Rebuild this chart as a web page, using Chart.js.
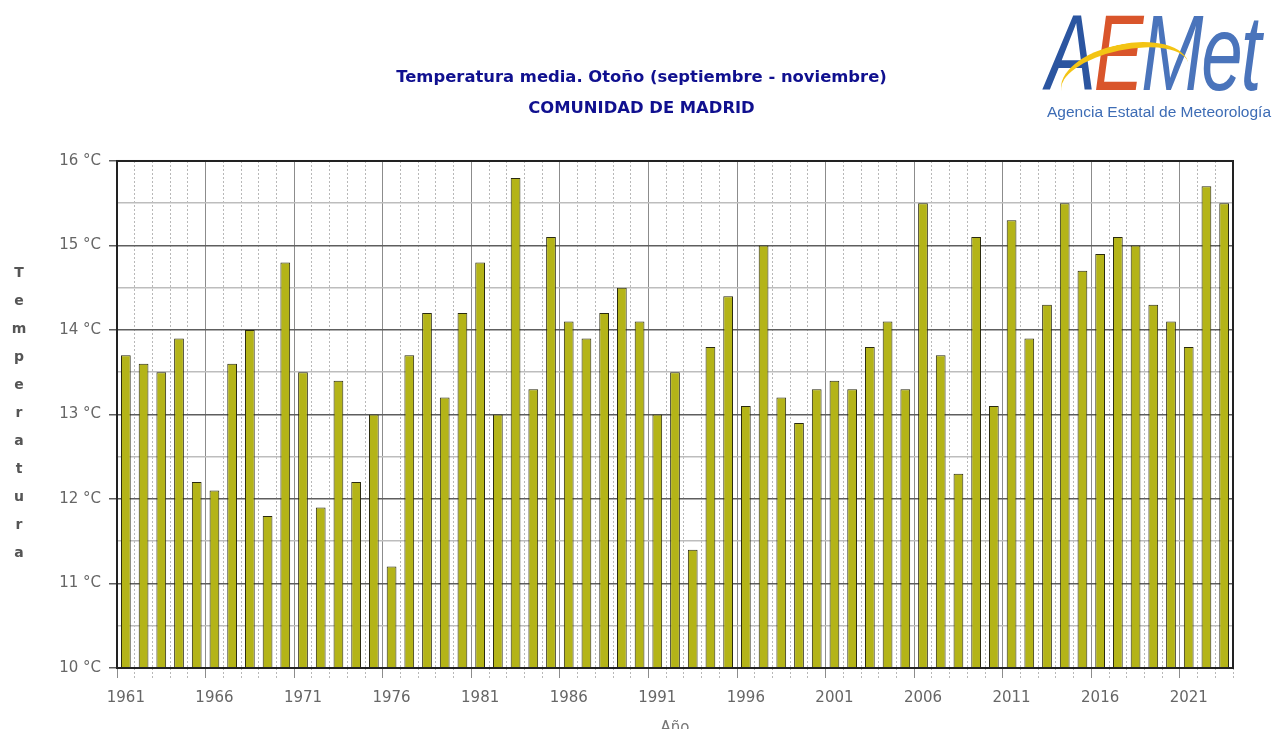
<!DOCTYPE html>
<html>
<head>
<meta charset="utf-8">
<script src="https://cdn.jsdelivr.net/npm/chart.js@4.4.1/dist/chart.umd.min.js"></script>
<style>
  body { margin: 0; background: #fff; }
  #wrap { position: relative; width: 1283px; height: 729px; overflow: hidden; }
  #ytitle { position: absolute; left: 9px; top: 258px; width: 20px; font: bold 14px "DejaVu Sans", sans-serif; color: #555; text-align: center; }
  #ytitle div { height: 28px; line-height: 28px; }
  #logo { position: absolute; left: 1040px; top: 0; width: 243px; height: 125px; }
  #logo .mark { position: absolute; left: 6px; top: -10px; font: italic 108px "Liberation Sans", sans-serif; transform: scaleX(0.69); transform-origin: left top; white-space: nowrap; letter-spacing: -3px; }
  #logo .swoosh { position: absolute; left: 20px; top: 44px; width: 130px; height: 60px; border-top: 6px solid #f3c414; border-radius: 50%; transform: rotate(-12deg); }
  #logo .sub { position: absolute; left: 7px; top: 103px; font: 15.5px "Liberation Sans", sans-serif; color: #3d6cb5; white-space: nowrap; }
</style>
</head>
<body>
<div id="wrap">
  <canvas id="tempChart" width="1283" height="729"></canvas>
  <div id="ytitle"></div>
  <div id="logo">
    <div class="mark"><span style="color:#2b55a0">A</span><span style="color:#d9552b">E</span><span style="color:#4a74bb">Met</span></div>
    <div class="swoosh"></div>
    <div class="sub">Agencia Estatal de Meteorología</div>
  </div>
</div>
<script>
// datos: temperatura media de otoño, Comunidad de Madrid
var years = [];
for (var y = 1961; y <= 2023; y++) years.push(String(y));

var tempMedia = [
    13.7, 13.6, 13.5, 13.9, 12.2, 12.1, 13.6, 14.0, 11.8, 14.8,
    13.5, 11.9, 13.4, 12.2, 13.0, 11.2, 13.7, 14.2, 13.2, 14.2,
    14.8, 13.0, 15.8, 13.3, 15.1, 14.1, 13.9, 14.2, 14.5, 14.1,
    13.0, 13.5, 11.4, 13.8, 14.4, 13.1, 15.0, 13.2, 12.9, 13.3,
    13.4, 13.3, 13.8, 14.1, 13.3, 15.5, 13.7, 12.3, 15.1, 13.1,
    15.3, 13.9, 14.3, 15.5, 14.7, 14.9, 15.1, 15.0, 14.3, 14.1,
    13.8, 15.7, 15.5
];

var titulo = ['Temperatura media. Otoño (septiembre - noviembre)', 'COMUNIDAD DE MADRID'];
var yLetras = 'Temperatura';

// titulo vertical del eje Y (letras apiladas)
var yt = document.getElementById('ytitle');
yLetras.split('').forEach(function (c) {
    var d = document.createElement('div');
    d.textContent = c;
    yt.appendChild(d);
});

var isMajor = function (ctx) { return ctx.index % 5 === 0; };

// marco negro alrededor del area del grafico
var marco = {
    id: 'marco',
    afterDraw: function (chart) {
        var a = chart.chartArea, c = chart.ctx;
        c.save();
        c.strokeStyle = '#222';
        c.lineWidth = 2;
        c.strokeRect(a.left, a.top, a.right - a.left, a.bottom - a.top);
        c.restore();
    }
};

new Chart(document.getElementById('tempChart'), {
    type: 'bar',
    data: {
        labels: years,
        datasets: [{
            label: 'Temperatura media',
            data: tempMedia,
            backgroundColor: '#b4b418',
            borderColor: '#2a2a10',
            borderWidth: 1,
            borderSkipped: false,
            barPercentage: 0.55,
            categoryPercentage: 1.0
        }]
    },
    options: {
        responsive: false,
        animation: false,
        layout: { padding: { left: 50, right: 50, top: 0, bottom: -8 } },
        plugins: {
            legend: { display: false },
            tooltip: { enabled: false },
            title: {
                display: true,
                text: titulo,
                color: '#10108f',
                font: { family: 'DejaVu Sans', size: 16.4, weight: 'bold', lineHeight: 1.89 },
                padding: { top: 62, bottom: 37 }
            }
        },
        scales: {
            x: {
                offset: true,
                grid: {
                    offset: true,
                    color: function (ctx) { return isMajor(ctx) ? '#8c8c8c' : '#b8b8b8'; },
                    tickColor: function (ctx) { return isMajor(ctx) ? '#8c8c8c' : '#b8b8b8'; },
                    tickBorderDash: function (ctx) { return isMajor(ctx) ? [] : [2, 2]; },
                    lineWidth: 1,
                    tickLength: 10
                },
                border: {
                    display: false,
                    dash: function (ctx) { return isMajor(ctx) ? [] : [2, 2]; }
                },
                ticks: {
                    autoSkip: false,
                    maxRotation: 0,
                    padding: 11,
                    color: '#666',
                    font: { family: 'DejaVu Sans', size: 15 },
                    callback: function (v, i) { return i % 5 === 0 ? years[i] : ''; }
                },
                title: {
                    display: true,
                    text: 'Año',
                    color: '#777',
                    font: { family: 'DejaVu Sans', size: 15 },
                    padding: { top: 1, bottom: 0 }
                }
            },
            y: {
                min: 10,
                max: 16,
                afterFit: function (scale) { scale.width = 67; },
                grid: {
                    color: function (ctx) { return Number.isInteger(ctx.tick.value) ? '#5e5e5e' : '#bdbdbd'; },
                    tickColor: function (ctx) { return Number.isInteger(ctx.tick.value) ? '#5e5e5e' : 'rgba(0,0,0,0)'; },
                    lineWidth: 1.5,
                    tickLength: 8
                },
                border: { display: false },
                ticks: {
                    stepSize: 0.5,
                    padding: 8,
                    color: '#666',
                    font: { family: 'DejaVu Sans', size: 15 },
                    callback: function (v) { return Number.isInteger(v) ? v + ' °C' : ''; }
                }
            }
        }
    },
    plugins: [marco]
});
</script>
</body>
</html>
